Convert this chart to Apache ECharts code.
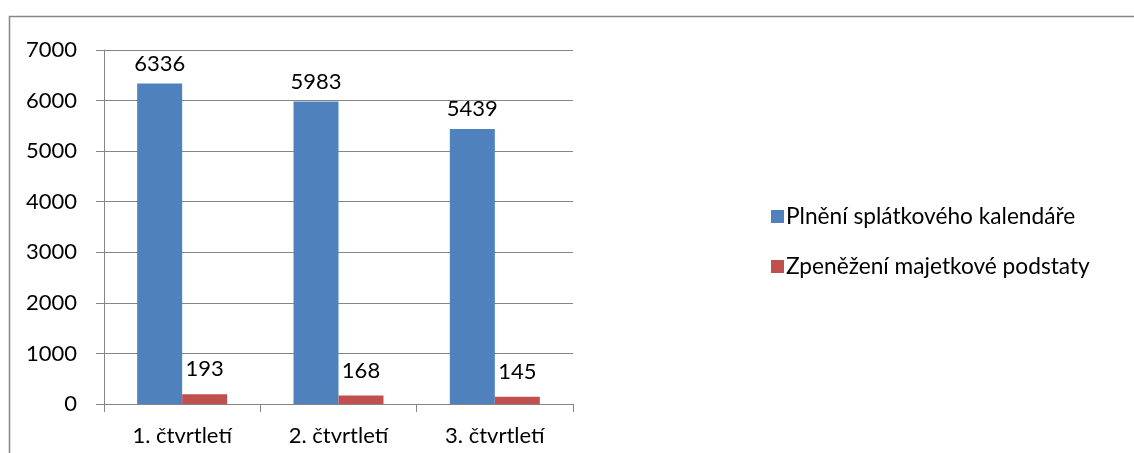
<!DOCTYPE html>
<html><head><meta charset="utf-8">
<script src="https://cdn.jsdelivr.net/npm/echarts@6/dist/echarts.min.js"></script>
<style>
html,body{margin:0;padding:0;background:#fff;}
#c{width:1134px;height:453px;}
</style></head><body>
<div id="c"></div>
<script>
const categories = ['1. čtvrtletí', '2. čtvrtletí', '3. čtvrtletí'];
const seriesNames = ['Plnění splátkového kalendáře', 'Zpeněžení majetkové podstaty'];
const plneni = [6336, 5983, 5439];
const zpenezeni = [193, 168, 145];
const yMin = 0, yMax = 7000, yStep = 1000;

const FONT = 'Lato';
const FS = 22;
const chart = echarts.init(document.getElementById('c'), null, {renderer: 'canvas'});
chart.setOption({
  animation: false,
  backgroundColor: '#fff',
  textStyle: {fontFamily: FONT},
  graphic: [{
    type: 'polyline', silent: true,
    shape: {points: [[9.5, 453], [9.5, 16.5], [1134, 16.5]]},
    style: {stroke: '#878787', lineWidth: 1.5, fill: null}
  }],
  grid: {left: 104, right: 561, top: 50, bottom: 49, containLabel: false},
  legend: {
    orient: 'vertical', left: 766, top: 200,
    itemWidth: 13, itemHeight: 13, itemGap: 27,
    icon: 'rect',
    textStyle: {fontFamily: FONT, fontSize: 22.7, color: '#000', padding: [0,0,0,-3]},
    data: seriesNames
  },
  xAxis: {
    type: 'category', data: categories,
    axisLine: {lineStyle: {color: '#868686', width: 1}},
    axisTick: {show: true, length: 8, lineStyle: {color: '#868686'}},
    axisLabel: {fontFamily: FONT, fontSize: FS, color: '#000', margin: 21}
  },
  yAxis: {
    type: 'value', min: yMin, max: yMax, interval: yStep,
    axisLine: {show: true, lineStyle: {color: '#868686'}},
    axisTick: {show: true, length: 8, lineStyle: {color: '#868686'}},
    splitLine: {lineStyle: {color: '#868686'}},
    axisLabel: {fontFamily: FONT, fontSize: FS, color: '#000', margin: 27, formatter: v => String(v)}
  },
  series: [
    {name: seriesNames[0], type: 'bar', data: plneni, barWidth: 45, barGap: '0%',
     itemStyle: {color: '#4F81BD'},
     label: {show: true, position: 'top', distance: 9, fontFamily: FONT, fontSize: FS, color: '#000'}},
    {name: seriesNames[1], type: 'bar', data: zpenezeni, barWidth: 45, barGap: '0%',
     itemStyle: {color: '#C0504D'},
     label: {show: true, position: 'top', distance: 14, fontFamily: FONT, fontSize: FS, color: '#000'}}
  ]
});
</script>
</body></html>
